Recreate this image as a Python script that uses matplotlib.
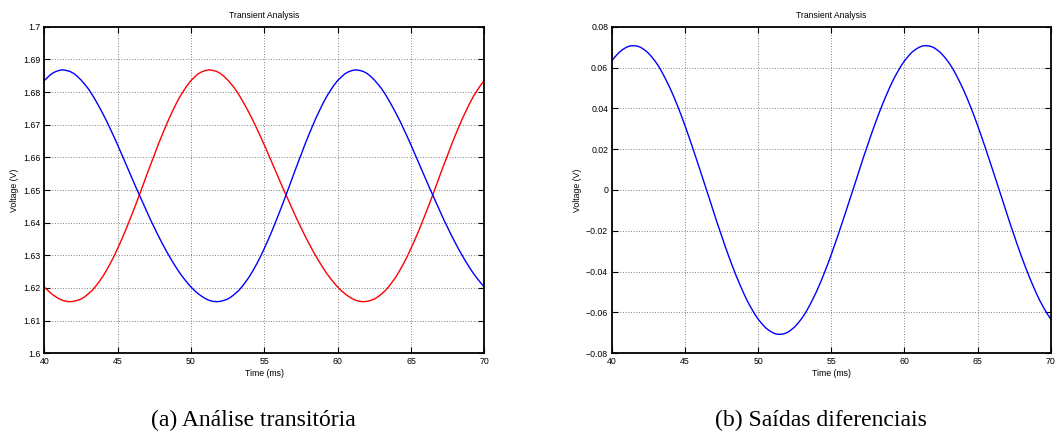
import matplotlib
matplotlib.use("Agg")
import matplotlib.pyplot as plt
from matplotlib.ticker import FuncFormatter

# Time axis (ms), sampled every 0.25 ms
time_ms = [40.0 + 0.25 * k for k in range(121)]

# Positive output (V)
v_out_pos = [
    1.6835, 1.6846, 1.6856, 1.6862, 1.6866, 1.6868, 1.6866, 1.6863, 1.6857, 1.6848,
    1.6837, 1.6824, 1.6810, 1.6793, 1.6774, 1.6754, 1.6733, 1.6711, 1.6687, 1.6663,
    1.6638, 1.6612, 1.6586, 1.6560, 1.6534, 1.6508, 1.6483, 1.6458, 1.6433, 1.6408,
    1.6385, 1.6362, 1.6340, 1.6319, 1.6299, 1.6280, 1.6262, 1.6245, 1.6230, 1.6216,
    1.6203, 1.6192, 1.6182, 1.6174, 1.6167, 1.6162, 1.6159, 1.6158, 1.6159, 1.6162,
    1.6166, 1.6173, 1.6182, 1.6192, 1.6205, 1.6220, 1.6236, 1.6255, 1.6275, 1.6297,
    1.6321, 1.6346, 1.6372, 1.6400, 1.6428, 1.6457, 1.6487, 1.6517, 1.6548, 1.6578,
    1.6607, 1.6637, 1.6665, 1.6692, 1.6718, 1.6742, 1.6765, 1.6786, 1.6804, 1.6821,
    1.6835, 1.6846, 1.6856, 1.6862, 1.6866, 1.6868, 1.6866, 1.6863, 1.6857, 1.6848,
    1.6837, 1.6824, 1.6810, 1.6793, 1.6774, 1.6754, 1.6733, 1.6711, 1.6687, 1.6663,
    1.6638, 1.6612, 1.6586, 1.6560, 1.6534, 1.6508, 1.6483, 1.6458, 1.6433, 1.6408,
    1.6385, 1.6362, 1.6340, 1.6319, 1.6299, 1.6280, 1.6262, 1.6245, 1.6230, 1.6216,
    1.6203,
]

# Negative output (V)
v_out_neg = [
    1.6203, 1.6192, 1.6182, 1.6174, 1.6167, 1.6162, 1.6159, 1.6158, 1.6159, 1.6162,
    1.6166, 1.6173, 1.6182, 1.6192, 1.6205, 1.6220, 1.6236, 1.6255, 1.6275, 1.6297,
    1.6321, 1.6346, 1.6372, 1.6400, 1.6428, 1.6457, 1.6487, 1.6517, 1.6548, 1.6578,
    1.6607, 1.6637, 1.6665, 1.6692, 1.6718, 1.6742, 1.6765, 1.6786, 1.6804, 1.6821,
    1.6835, 1.6846, 1.6856, 1.6862, 1.6866, 1.6868, 1.6866, 1.6863, 1.6857, 1.6848,
    1.6837, 1.6824, 1.6810, 1.6793, 1.6774, 1.6754, 1.6733, 1.6711, 1.6687, 1.6663,
    1.6638, 1.6612, 1.6586, 1.6560, 1.6534, 1.6508, 1.6483, 1.6458, 1.6433, 1.6408,
    1.6385, 1.6362, 1.6340, 1.6319, 1.6299, 1.6280, 1.6262, 1.6245, 1.6230, 1.6216,
    1.6203, 1.6192, 1.6182, 1.6174, 1.6167, 1.6162, 1.6159, 1.6158, 1.6159, 1.6162,
    1.6166, 1.6173, 1.6182, 1.6192, 1.6205, 1.6220, 1.6236, 1.6255, 1.6275, 1.6297,
    1.6321, 1.6346, 1.6372, 1.6400, 1.6428, 1.6457, 1.6487, 1.6517, 1.6548, 1.6578,
    1.6607, 1.6637, 1.6665, 1.6692, 1.6718, 1.6742, 1.6765, 1.6786, 1.6804, 1.6821,
    1.6835,
]

left_yticks = [1.60, 1.61, 1.62, 1.63, 1.64, 1.65, 1.66, 1.67, 1.68, 1.69, 1.70]
right_yticks = [-0.08, -0.06, -0.04, -0.02, 0.0, 0.02, 0.04, 0.06, 0.08]
xticks = [40, 45, 50, 55, 60, 65, 70]

plot_title = "Transient Analysis"
x_label = "Time (ms)"
y_label = "Voltage (V)"
caption_a = "(a) Análise transitória"
caption_b = "(b) Saídas diferenciais"

# Differential output is the difference of the two single-ended outputs
v_diff = [p - n for p, n in zip(v_out_pos, v_out_neg)]

plt.rcParams["font.family"] = ["Liberation Sans", "DejaVu Sans"]

W, H = 1059, 437
fig = plt.figure(figsize=(W / 100, H / 100), dpi=100)


def fmt(v, _pos):
    s = f"{round(v, 2):g}"
    if s == "-0":
        s = "0"
    return s.replace("-", "\u2212")


def style_axes(ax, yticks):
    ax.set_xlim(40, 70)
    ax.set_ylim(yticks[0], yticks[-1])
    ax.set_xticks(xticks)
    ax.set_yticks(yticks)
    ax.yaxis.set_major_formatter(FuncFormatter(fmt))
    ax.tick_params(direction="in", top=True, right=True, length=4, width=0.8,
                   labelsize=6.3, pad=2.5, colors="black")
    ax.grid(True, color="0.35", linestyle=(0, (1, 2.2)), linewidth=0.6)
    for sp in ax.spines.values():
        sp.set_linewidth(1.3)
        sp.set_color("black")
    ax.set_title(plot_title, fontsize=6.2, pad=6)
    ax.set_xlabel(x_label, fontsize=6.3, labelpad=2)
    ax.set_ylabel(y_label, fontsize=6.3, labelpad=3)


ax1 = fig.add_axes([44.3 / W, 1 - 353.3 / H, 440 / W, 326.6 / H])
ax1.plot(time_ms, v_out_neg, color="#ff0000", linewidth=1.0)
ax1.plot(time_ms, v_out_pos, color="#0000ff", linewidth=1.0)
style_axes(ax1, left_yticks)

ax2 = fig.add_axes([611.7 / W, 1 - 353.3 / H, 439 / W, 326.6 / H])
ax2.plot(time_ms, v_diff, color="#0000ff", linewidth=1.0)
style_axes(ax2, right_yticks)

serif = ["Liberation Serif", "DejaVu Serif"]
fig.text(253.4 / W, 1 - 426 / H, caption_a, ha="center", va="baseline",
         fontsize=17, family=serif)
fig.text(821 / W, 1 - 426 / H, caption_b, ha="center", va="baseline",
         fontsize=17, family=serif)

fig.savefig("out.png", dpi=100)
